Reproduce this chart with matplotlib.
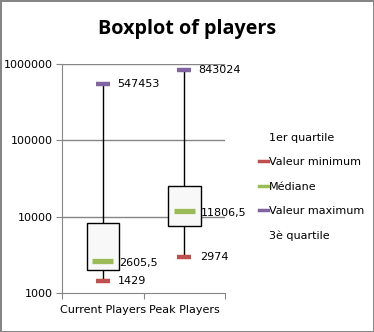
import matplotlib
matplotlib.use("Agg")
import matplotlib.pyplot as plt
from matplotlib.lines import Line2D
from matplotlib.ticker import FixedLocator, NullLocator, FuncFormatter

# donnees
categories = ["Current Players", "Peak Players"]
v_min = [1429, 2974]
q1 = [2000, 7530]
mediane = [2605.5, 11806.5]
q3 = [8300, 25400]
v_max = [547453, 843024]
lab_min = ["1429", "2974"]
lab_med = ["2605,5", "11806,5"]
lab_max = ["547453", "843024"]

c_min = "#c0504d"
c_med = "#9bbb59"
c_max = "#8064a2"
gris = "#868686"

plt.rcParams["font.family"] = "DejaVu Sans"
plt.rcParams["font.size"] = 8

fig = plt.figure(figsize=(3.74, 3.32), dpi=100)
fig.patch.set_edgecolor(gris)
fig.patch.set_linewidth(2)
ax = fig.add_axes([0.166, 0.1175, 0.436, 0.6895])

x = [0.5, 1.5]

# grille
for v in [10000, 100000, 1000000]:
	ax.axhline(v, color=gris, lw=1, zorder=0)

# moustaches
ax.vlines(x, v_min, q1, color="black", lw=1, zorder=1)
ax.vlines(x, q3, v_max, color="black", lw=1, zorder=1)

# boites
ax.bar(x, [q3[i]-q1[i] for i in range(2)], bottom=q1, width=0.4,
	color="#f8f8f8", edgecolor="black", lw=1, zorder=2)

# marqueurs
ax.hlines(v_min, [xi-0.087 for xi in x], [xi+0.087 for xi in x], color=c_min, lw=3.2, zorder=3)
ax.hlines(mediane, [xi-0.13 for xi in x], [xi+0.13 for xi in x], color=c_med, lw=3.8, zorder=3)
ax.hlines(v_max, [xi-0.087 for xi in x], [xi+0.087 for xi in x], color=c_max, lw=3.2, zorder=3)

for i in range(2):
	ax.annotate(lab_min[i], (x[i]+0.087, v_min[i]), xytext=(6, 0), textcoords="offset points",
		va="center", ha="left", fontsize=8)
	ax.annotate(lab_med[i], (x[i]+0.13, mediane[i]), xytext=(4, -1), textcoords="offset points",
		va="center", ha="left", fontsize=8)
	ax.annotate(lab_max[i], (x[i]+0.087, v_max[i]), xytext=(5, 0), textcoords="offset points",
		va="center", ha="left", fontsize=8)

ax.set_yscale("log")
ax.set_ylim(1000, 1000000)
ax.set_xlim(0, 2)
ax.yaxis.set_major_locator(FixedLocator([1000, 10000, 100000, 1000000]))
ax.yaxis.set_minor_locator(NullLocator())
ax.yaxis.set_major_formatter(FuncFormatter(lambda v, p: str(int(round(v)))))
ax.set_xticks([0, 1, 2])
ax.set_xticklabels([])
ax.set_xticks(x, minor=True)
ax.set_xticklabels(categories, minor=True)
ax.tick_params(axis="x", which="minor", length=0, pad=9)
ax.tick_params(axis="x", which="major", length=4, color=gris)
ax.tick_params(axis="y", length=4, color=gris, pad=3)

for s in ["top", "right"]:
	ax.spines[s].set_visible(False)
ax.spines["left"].set_color(gris)
ax.spines["bottom"].set_color(gris)

fig.text(0.5, 0.912, "Boxplot of players", ha="center", va="center",
	fontsize=14.2, fontweight="bold", family="Open Sans")

# legende
h_vide = Line2D([], [], color="none")
handles = [h_vide,
	Line2D([], [], color=c_min, lw=2.5),
	Line2D([], [], color=c_med, lw=2.5),
	Line2D([], [], color=c_max, lw=2.5),
	h_vide]
labels = ["1er quartile", "Valeur minimum", "Médiane", "Valeur maximum", "3è quartile"]
fig.legend(handles, labels, loc="center left", bbox_to_anchor=(0.665, 0.437),
	frameon=False, handlelength=0.8, handletextpad=0.15, labelspacing=1.3, fontsize=8)

plt.savefig("out.png", dpi=100)
